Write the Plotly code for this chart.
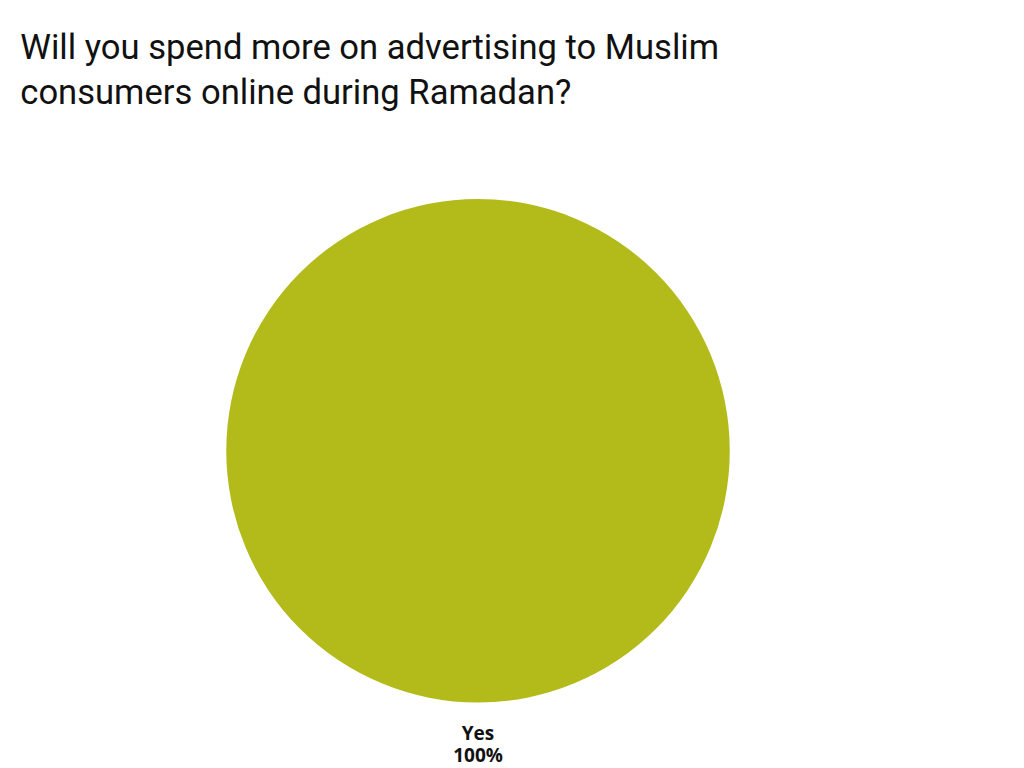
import plotly.graph_objects as go

labels = ["Yes"]
values = [100]
colors = ["#B2BB1A"]
title_text = "Will you spend more on advertising to Muslim<br>consumers online during Ramadan?"

total = sum(values)
span = "<span style='font-size:19px'><b>{}</b></span>"
label_text = "<br>".join(
    span.format(lab) + "<br>" + span.format(f"{val / total * 100:.0f}%")
    for lab, val in zip(labels, values)
)

fig = go.Figure(go.Pie(
    labels=labels,
    values=values,
    marker=dict(colors=colors, line=dict(width=0)),
    textinfo="none",
    title=dict(text="<br>" + label_text, position="bottom center",
               font=dict(family="Open Sans", size=16.5, color="#111111")),
    sort=False,
    direction="clockwise",
    rotation=0,
    showlegend=False,
    hoverinfo="label+percent",
    domain=dict(x=[0.1922, 0.7258], y=[0.0339, 0.7513]),
))

fig.update_layout(
    width=1024,
    height=768,
    margin=dict(l=0, r=0, t=0, b=0),
    paper_bgcolor="white",
    plot_bgcolor="white",
    title=dict(
        text=title_text,
        font=dict(family="Roboto", size=34.6, color="#111111"),
        x=0.012, xanchor="left",
        y=0.934, yanchor="top",
    ),
)

fig.write_html("out.html")
